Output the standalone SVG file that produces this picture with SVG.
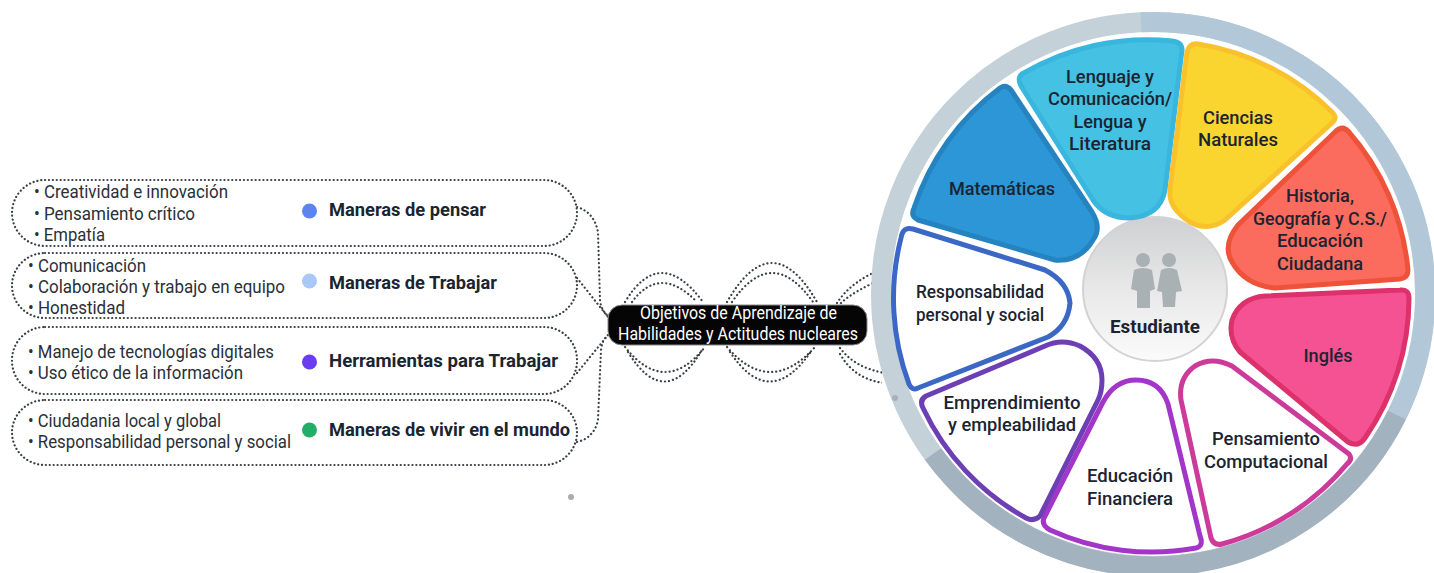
<svg xmlns="http://www.w3.org/2000/svg" width="1434" height="573" viewBox="0 0 1434 573">
<style>
text{font-family:Roboto,"Liberation Sans",sans-serif;fill:#1b2431}
.item{font-size:19px;font-weight:400;fill:#2a2f38}
.head{font-size:17.5px;font-weight:700}
.lab{font-size:18px;font-weight:500;text-anchor:middle}
.obj{font-size:19px;fill:#fff}
.pill{fill:#fff;stroke:#3a3f45;stroke-width:2.200;stroke-dasharray:.1 3.800;stroke-linecap:round}
.dot{fill:none;stroke:#3a3f45;stroke-width:2.200;stroke-dasharray:.1 4;stroke-linecap:round}
.pet{stroke-width:5;stroke-linejoin:round}
.arc{fill:none;stroke-width:20}
</style>
<defs>
<linearGradient id="c" x1="0" y1="0" x2="0" y2="1"><stop offset="0" stop-color="#cfd0d2"/><stop offset=".5" stop-color="#e8e8e8"/><stop offset="1" stop-color="#fbfbfb"/></linearGradient>
<clipPath id="waveClip"><rect x="600" y="240" width="282" height="170"/></clipPath>
</defs>
<g id="connectors">
<g clip-path="url(#waveClip)">
<path class="dot" d="M625 302Q660 244 703 302M632 302Q660 264 697 302M727 302Q772 224 817 302M732 302Q772 244 813 302M837 303Q852 280 885 268M841 303Q855 290 885 278"/>
<path class="dot" d="M625 347Q665 397 705 347M628 352Q665 412 702 350M727 347Q770 397 815 347M730 352Q770 412 812 350M840 348Q855 368 885 373M840 354Q855 380 885 383"/>
</g>
<path class="dot" d="M577 207Q594 212 598 232L600 300Q601 310 608 316M577 278L608 317M577 373L608 335M577 442Q594 438 598 420L601 350Q602 340 608 335"/>
</g>
<g id="ring">
<circle class="arc" cx="1153" cy="294" r="272" stroke="#c5d1d8"/>
<path class="arc" stroke="#b2c8d8" d="M1141 22.300A272 272 0 0 1 1397 415"/>
<path class="arc" stroke="#a2b2bf" d="M1397 415A272 272 0 0 1 933 454"/>
<circle cx="895" cy="398" r="3" fill="#a5b0ba"/>
</g>
<g id="n-estudiante">
<circle cx="1155" cy="289" r="72" fill="url(#c)" stroke="#d3d3d3" stroke-width="2"/>
<g fill="#a9b1b5">
<circle cx="1143" cy="260" r="7"/><path d="M1134 270Q1143 266 1152 270L1155 289L1150 291V308H1137V291L1131 289Z"/>
<circle cx="1169" cy="260" r="7"/><path d="M1161 270Q1169 266 1177 270L1182 291L1176 292L1175 307H1163L1162 292L1157 291Z"/>
</g>
<text class="lab" x="1155" y="333" textLength="90" lengthAdjust="spacingAndGlyphs" style="font-weight:700">Estudiante</text>
</g>
<g id="n-matematicas">
<path class="pet" fill="#2d96d6" stroke="#2583c0" d="M1000 88Q1006 84 1011 90L1092 212Q1102 228 1093 240Q1080 262 1055 260L918 220Q910 216 914 208A245 245 0 0 1 1000 88Z"/>
<text class="lab" x="1002" y="195" textLength="106" lengthAdjust="spacingAndGlyphs">Matemáticas</text>
</g>
<g id="n-lenguaje">
<path class="pet" fill="#45c1e3" stroke="#38b6dd" d="M1022 74A245 245 0 0 1 1172 41Q1182 42 1182 50L1165 190Q1160 216 1130 218Q1105 218 1093 200L1021 86Q1017 78 1022 74Z"/>
<text class="lab" x="1110" y="83" textLength="88" lengthAdjust="spacingAndGlyphs">Lenguaje y</text>
<text class="lab" x="1110" y="105" textLength="124" lengthAdjust="spacingAndGlyphs">Comunicación/</text>
<text class="lab" x="1110" y="128" textLength="73" lengthAdjust="spacingAndGlyphs">Lengua y</text>
<text class="lab" x="1110" y="150" textLength="82" lengthAdjust="spacingAndGlyphs">Literatura</text>
</g>
<g id="n-ciencias">
<path class="pet" fill="#fbd52f" stroke="#f9c22c" d="M1198 44A245 245 0 0 1 1333 113Q1337 118 1333 122L1225 220Q1208 232 1190 222Q1168 208 1170 190L1187 52Q1190 42 1198 44Z"/>
<text class="lab" x="1238" y="124" textLength="70" lengthAdjust="spacingAndGlyphs">Ciencias</text>
<text class="lab" x="1238" y="146" textLength="80" lengthAdjust="spacingAndGlyphs">Naturales</text>
</g>
<g id="n-historia">
<path class="pet" fill="#fb6b5e" stroke="#ee5238" d="M1348 131A245 245 0 0 1 1408 270Q1408 278 1400 279L1275 288Q1245 285 1232 262Q1222 245 1238 225L1335 132Q1342 125 1348 131Z"/>
<text class="lab" x="1320" y="202" textLength="68" lengthAdjust="spacingAndGlyphs">Historia,</text>
<text class="lab" x="1320" y="225" textLength="134" lengthAdjust="spacingAndGlyphs">Geografía y C.S./</text>
<text class="lab" x="1320" y="247" textLength="86" lengthAdjust="spacingAndGlyphs">Educación</text>
<text class="lab" x="1320" y="270" textLength="86" lengthAdjust="spacingAndGlyphs">Ciudadana</text>
</g>
<g id="n-ingles">
<path class="pet" fill="#f45292" stroke="#dd316c" d="M1400 290Q1409 289 1409 298A245 245 0 0 1 1365 438Q1358 448 1348 442L1240 352Q1228 338 1232 320Q1240 298 1265 296Z"/>
<text class="lab" x="1328" y="362" textLength="49" lengthAdjust="spacingAndGlyphs">Inglés</text>
</g>
<g id="n-pensamiento">
<path class="pet" fill="#fff" stroke="#cc3b9a" d="M1349 454Q1353 459 1347 464A245 245 0 0 1 1222 544Q1214 546 1211 538L1181 400Q1178 378 1195 366Q1212 356 1232 366Z"/>
<text class="lab" x="1266" y="445" textLength="108" lengthAdjust="spacingAndGlyphs">Pensamiento</text>
<text class="lab" x="1266" y="468" textLength="124" lengthAdjust="spacingAndGlyphs">Computacional</text>
</g>
<g id="n-educacion">
<path class="pet" fill="#fff" stroke="#a335c8" d="M1200 536Q1204 546 1196 548A245 245 0 0 1 1050 530Q1041 525 1044 518L1103 402Q1115 380 1136 380Q1160 380 1168 404Z"/>
<text class="lab" x="1130" y="482" textLength="86" lengthAdjust="spacingAndGlyphs">Educación</text>
<text class="lab" x="1130" y="505" textLength="86" lengthAdjust="spacingAndGlyphs">Financiera</text>
</g>
<g id="n-emprendimiento">
<path class="pet" fill="#fff" stroke="#6d3fb5" d="M1040 516Q1034 522 1026 518A245 245 0 0 1 923 408Q919 400 926 396L1045 346Q1062 338 1080 346Q1102 358 1102 380Q1102 392 1098 400Z"/>
<text class="lab" x="1012" y="409" textLength="137" lengthAdjust="spacingAndGlyphs">Emprendimiento</text>
<text class="lab" x="1012" y="431" textLength="128" lengthAdjust="spacingAndGlyphs">y empleabilidad</text>
</g>
<g id="n-responsabilidad">
<path class="pet" fill="#fff" stroke="#3b68c4" d="M918 388Q912 391 909 384A245 245 0 0 1 901 238Q903 226 913 229L1045 270Q1068 282 1070 303Q1068 326 1048 337Z"/>
<text class="lab" x="980" y="298" textLength="128" lengthAdjust="spacingAndGlyphs">Responsabilidad</text>
<text class="lab" x="980" y="321" textLength="128" lengthAdjust="spacingAndGlyphs">personal y social</text>
</g>
<g id="n-objetivos">
<rect x="608" y="305" width="259" height="40" rx="14" fill="#050505" stroke="#8a8a8a" stroke-width="1"/>
<text class="obj" x="640" y="319" textLength="197" lengthAdjust="spacingAndGlyphs">Objetivos de Aprendizaje de</text>
<text class="obj" x="618" y="340" textLength="240" lengthAdjust="spacingAndGlyphs">Habilidades y Actitudes nucleares</text>
</g>
<g id="n-pensar">
<rect class="pill" x="12" y="180" width="565" height="66" rx="33"/>
<text class="item" x="34" y="198" textLength="194" lengthAdjust="spacingAndGlyphs">• Creatividad e innovación</text>
<text class="item" x="34" y="220" textLength="161" lengthAdjust="spacingAndGlyphs">• Pensamiento crítico</text>
<text class="item" x="34" y="241" textLength="71" lengthAdjust="spacingAndGlyphs">• Empatía</text>
<circle cx="309.500" cy="211" r="7.500" fill="#5b84f0"/>
<text class="head" x="329" y="216" textLength="157" lengthAdjust="spacingAndGlyphs">Maneras de pensar</text>
</g>
<g id="n-trabajar">
<rect class="pill" x="12" y="253" width="565" height="65" rx="33"/>
<text class="item" x="28" y="272" textLength="118" lengthAdjust="spacingAndGlyphs">• Comunicación</text>
<text class="item" x="28" y="293" textLength="257" lengthAdjust="spacingAndGlyphs">• Colaboración y trabajo en equipo</text>
<text class="item" x="28" y="314" textLength="97" lengthAdjust="spacingAndGlyphs">• Honestidad</text>
<circle cx="309.500" cy="281" r="7.500" fill="#a8c8f8"/>
<text class="head" x="329" y="289" textLength="168" lengthAdjust="spacingAndGlyphs">Maneras de Trabajar</text>
</g>
<g id="n-herramientas">
<rect class="pill" x="12" y="327" width="565" height="67" rx="33"/>
<text class="item" x="28" y="358" textLength="246" lengthAdjust="spacingAndGlyphs">• Manejo de tecnologías digitales</text>
<text class="item" x="28" y="379" textLength="215" lengthAdjust="spacingAndGlyphs">• Uso ético de la información</text>
<circle cx="309.500" cy="362" r="7.500" fill="#6a3df0"/>
<text class="head" x="329" y="367" textLength="229" lengthAdjust="spacingAndGlyphs">Herramientas para Trabajar</text>
</g>
<g id="n-vivir">
<rect class="pill" x="12" y="400" width="565" height="65" rx="33"/>
<text class="item" x="28" y="427" textLength="193" lengthAdjust="spacingAndGlyphs">• Ciudadania local y global</text>
<text class="item" x="28" y="448" textLength="263" lengthAdjust="spacingAndGlyphs">• Responsabilidad personal y social</text>
<circle cx="309.500" cy="430" r="7.500" fill="#22ad68"/>
<text class="head" x="329" y="436" textLength="241" lengthAdjust="spacingAndGlyphs">Maneras de vivir en el mundo</text>
</g>
<circle cx="571" cy="497" r="3" fill="#a9adb0"/>
</svg>
